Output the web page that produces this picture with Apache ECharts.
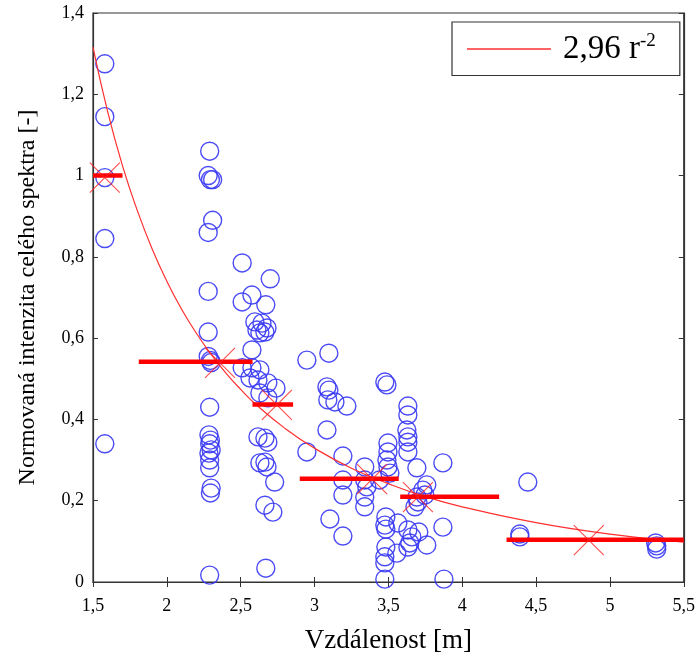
<!DOCTYPE html>
<html><head><meta charset="utf-8">
<script src="https://cdn.jsdelivr.net/npm/echarts@6/dist/echarts.min.js"></script>
<style>html,body{margin:0;padding:0;background:#fff}#c{width:698px;height:663px}</style>
</head><body><div id="c"></div>
<script>
// measured points [distance m, normalized intensity]
const measured = [
 [1.58,1.275],[1.58,1.145],[1.58,0.995],[1.58,0.845],[1.58,0.34],
 [2.29,1.06],[2.28,1.0],[2.295,0.99],[2.31,0.99],[2.31,0.89],[2.28,0.86],[2.28,0.715],[2.28,0.615],
 [2.28,0.555],[2.295,0.545],[2.30,0.54],[2.29,0.43],[2.285,0.362],[2.295,0.349],[2.29,0.34],
 [2.30,0.325],[2.285,0.317],[2.29,0.30],[2.29,0.281],[2.30,0.231],[2.295,0.219],[2.29,0.017],
 [2.51,0.785],[2.51,0.689],[2.576,0.706],[2.70,0.746],[2.67,0.682],
 [2.596,0.640],[2.644,0.637],[2.678,0.625],[2.61,0.620],[2.63,0.613],[2.664,0.615],
 [2.576,0.571],[2.51,0.527],[2.576,0.527],[2.63,0.522],[2.563,0.502],[2.617,0.497],
 [2.684,0.490],[2.739,0.477],[2.63,0.465],[2.684,0.453],
 [2.617,0.357],[2.664,0.354],[2.684,0.344],[2.63,0.293],[2.664,0.295],[2.678,0.283],
 [2.73,0.246],[2.664,0.189],[2.718,0.172],[2.67,0.034],
 [2.948,0.546],[3.097,0.563],[3.084,0.480],[3.097,0.472],[3.09,0.448],[3.138,0.443],[3.219,0.433],
 [3.084,0.374],[2.948,0.320],[3.192,0.310],[3.192,0.251],[3.192,0.214],[3.104,0.155],[3.192,0.113],
 [3.34,0.283],[3.34,0.251],[3.354,0.234],[3.34,0.209],[3.34,0.185],[3.44,0.251],
 [3.476,0.492],[3.49,0.485],[3.497,0.342],[3.497,0.320],[3.49,0.300],[3.497,0.283],[3.51,0.268],
 [3.483,0.160],[3.476,0.140],[3.483,0.130],[3.564,0.145],[3.483,0.086],[3.476,0.062],[3.476,0.047],
 [3.557,0.071],[3.476,0.007],
 [3.632,0.433],[3.632,0.411],[3.625,0.374],[3.632,0.357],[3.632,0.344],[3.632,0.320],[3.693,0.281],
 [3.76,0.239],[3.733,0.226],[3.747,0.214],[3.693,0.209],[3.70,0.197],[3.68,0.185],
 [3.632,0.128],[3.659,0.111],[3.645,0.096],[3.706,0.123],[3.76,0.091],[3.632,0.086],
 [3.869,0.293],[3.869,0.135],[3.876,0.007],
 [4.39,0.118],[4.39,0.111],[4.444,0.246],
 [5.31,0.096],[5.317,0.089],[5.317,0.081]
];
// fitted curve 2,96 r^-2
const fitX = [1.5,1.6,1.7,1.8,1.9,2.0,2.1,2.2,2.3,2.4,2.5,2.6,2.8,3.0,3.25,3.5,3.75,4.0,4.5,5.0,5.5];
const fitY = [1.316,1.156,1.024,0.914,0.820,0.740,0.671,0.612,0.560,0.514,0.474,0.438,0.378,0.329,0.280,0.242,0.210,0.185,0.146,0.118,0.098];
// bin means: horizontal bar extents and level
const binStart = [1.5,1.81,2.58,2.90,3.58,4.30];
const binEnd   = [1.70,2.58,2.855,3.57,4.25,5.5];
const binMean  = [1.0,0.542,0.437,0.254,0.210,0.104];
// cross markers
const crossX = [1.58,2.36,2.745,3.39,3.70,4.857];
const crossY = [0.995,0.539,0.436,0.253,0.209,0.103];
const xTicks = ['1,5','2','2,5','3','3,5','4','4,5','5','5,5'];

const serif = 'Liberation Serif';
const fmtNum = v => String(Math.round(v*100)/100).replace('.', ',');
const axisCol = '#333';
const series = [];
series.push({
  name:'data', type:'scatter', data: measured, symbol:'circle', symbolSize:18,
  itemStyle:{color:'transparent', borderColor:'#3838f4', borderWidth:1.4, opacity:0.9},
  z:2, silent:true
});
series.push({
  name:'2,96 r-2', type:'line', data: fitX.map((x,i)=>[x,fitY[i]]), smooth:true,
  symbol:'none', showSymbol:false, lineStyle:{color:'#ff3030', width:1.2}, itemStyle:{color:'#ff3030'}, z:3
});
binMean.forEach((m,i)=>{
  series.push({
    name:'bin'+i, type:'line', data:[[binStart[i],m],[binEnd[i],m]], symbol:'none',
    lineStyle:{color:'#ff0000', width:4.5}, z:4, silent:true
  });
});
series.push({
  name:'cross', type:'scatter', data: crossX.map((x,i)=>[x,crossY[i]]),
  symbol:'path://M0,0L10,10M10,0L0,10', symbolSize:30,
  itemStyle:{color:'transparent', borderColor:'#ff2020', borderWidth:1.1}, z:5, silent:true
});

const chart = echarts.init(document.getElementById('c'), null, {renderer:'canvas'});
chart.setOption({
  animation:false,
  backgroundColor:'#fff',
  grid:{left:93, right:14, top:13, bottom:81, show:true, borderColor:axisCol, borderWidth:1.2},
  legend:{
    data:[{name:'2,96 r-2', icon:'rect'}], left:452, top:22, orient:'horizontal',
    backgroundColor:'#fff', borderColor:'#333', borderWidth:1.2,
    padding:[10,24,10,15], itemWidth:84, itemHeight:1.6,
    formatter:()=>'{a|2,96 r}{b|-2}',
    textStyle:{fontFamily:serif, color:'#000', fontSize:33,
      rich:{a:{fontFamily:serif, fontSize:33, color:'#000', padding:[0,0,0,7]},
            b:{fontFamily:serif, fontSize:19, color:'#000', padding:[0,0,15,0]}}}
  },
  xAxis:[{
    type:'value', min:1.5, max:5.5, interval:0.5,
    name:'Vzdálenost [m]', nameLocation:'middle', nameGap:45,
    nameTextStyle:{fontFamily:serif, fontSize:27, color:'#000'},
    axisLine:{show:true, lineStyle:{color:axisCol, width:1.2}},
    axisTick:{inside:true, length:5, lineStyle:{color:axisCol}},
    axisLabel:{fontFamily:serif, fontSize:18, color:'#000', margin:15, formatter:fmtNum},
    splitLine:{show:false}
  },{
    type:'value', position:'top', min:1.5, max:5.5, interval:0.5,
    axisLine:{show:true, lineStyle:{color:axisCol, width:1.2}},
    axisTick:{inside:true, length:5, lineStyle:{color:axisCol}},
    axisLabel:{show:false}, splitLine:{show:false}
  }],
  yAxis:[{
    type:'value', min:0, max:1.4, interval:0.2,
    name:'Normovaná intenzita celého spektra [-]', nameLocation:'middle', nameGap:53,
    nameTextStyle:{fontFamily:serif, fontSize:24, color:'#000'},
    axisLine:{show:true, lineStyle:{color:axisCol, width:1.2}},
    axisTick:{inside:true, length:5, lineStyle:{color:axisCol}},
    axisLabel:{fontFamily:serif, fontSize:18, color:'#000', margin:9, formatter:fmtNum},
    splitLine:{show:false}
  },{
    type:'value', position:'right', min:0, max:1.4, interval:0.2,
    axisLine:{show:true, lineStyle:{color:axisCol, width:1.2}},
    axisTick:{inside:true, length:5, lineStyle:{color:axisCol}},
    axisLabel:{show:false}, splitLine:{show:false}
  }],
  series: series
});
</script></body></html>
